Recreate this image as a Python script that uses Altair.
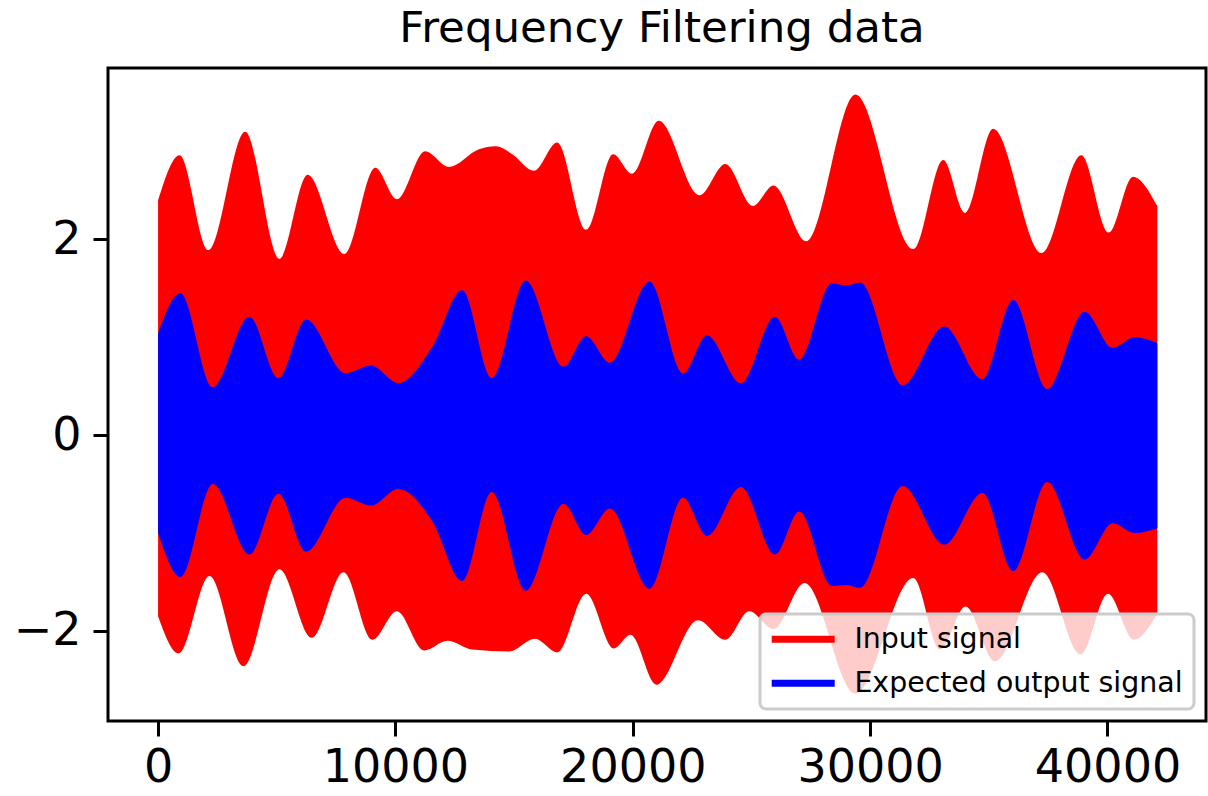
import altair as alt
import pandas as pd

# Input signal (red) envelope
red_up_x = [0, 904, 2124, 3668, 5110, 6301, 7844, 9148, 10061, 11251, 12260, 13522, 14225,
            14923, 15836, 16816, 18035, 19171, 19970, 21093, 22805, 23898, 25059, 25930,
            27305, 29379, 31818, 33080, 33993, 35183, 37215, 38897, 40050, 41071, 42100]
red_up_y = [2.40, 2.86, 1.89, 3.10, 1.80, 2.66, 1.85, 2.73, 2.41, 2.90, 2.74, 2.92, 2.95,
            2.87, 2.70, 2.99, 2.10, 2.87, 2.67, 3.21, 2.45, 2.77, 2.34, 2.55,
            1.98, 3.48, 1.90, 2.81, 2.27, 3.13, 1.86, 2.86, 2.07, 2.64, 2.34]

red_lo_x = [0, 862, 2166, 3596, 5110, 6469, 7815, 9035, 10061, 11209, 12189, 13240, 14784,
            15878, 16816, 18035, 19200, 19903, 20996, 22746, 23898, 24907, 25930, 27234,
            29379, 31818, 32954, 34018, 35254, 37257, 38872, 40020, 41113, 42100]
red_lo_y = [-1.85, -2.23, -1.44, -2.36, -1.37, -2.07, -1.40, -2.09, -1.80, -2.20, -2.10, -2.19, -2.21,
            -2.08, -2.22, -1.62, -2.18, -2.04, -2.55, -1.89, -2.09, -1.80, -1.98, -1.51,
            -2.64, -1.46, -2.19, -1.75, -2.31, -1.40, -2.24, -1.62, -2.09, -1.82]

# Expected output signal (blue) envelope
blue_x = [0, 940, 2305, 3848, 5068, 6233, 7900, 8967, 10120, 11550, 12810, 14056, 15487,
          17080, 18035, 19032, 20702, 22115, 23125, 24555, 25990, 27011, 28382, 29013,
          29577, 31368, 33122, 34733, 36024, 37460, 39040, 40215, 41143, 42100]
blue_up = [1.04, 1.45, 0.49, 1.21, 0.58, 1.18, 0.63, 0.71, 0.53, 0.90, 1.48, 0.58, 1.58,
           0.70, 1.01, 0.74, 1.57, 0.63, 1.02, 0.53, 1.21, 0.77, 1.55, 1.53,
           1.56, 0.51, 1.11, 0.57, 1.38, 0.47, 1.26, 0.89, 1.00, 0.94]
blue_lo = [-1.00, -1.45, -0.50, -1.22, -0.60, -1.19, -0.64, -0.72, -0.55, -0.88, -1.49, -0.58, -1.59,
           -0.70, -1.02, -0.75, -1.57, -0.64, -1.03, -0.53, -1.22, -0.78, -1.54, -1.53,
           -1.56, -0.52, -1.12, -0.59, -1.39, -0.48, -1.27, -0.90, -1.00, -0.95]

series_names = ["Input signal", "Expected output signal"]
series_colors = ["#ff0000", "#0000ff"]
x_ticks = [0, 10000, 20000, 30000, 40000]
y_ticks = [-2, 0, 2]

red_df = pd.concat([
    pd.DataFrame({"x": red_up_x, "y": red_up_y, "part": "upper", "series": series_names[0]}),
    pd.DataFrame({"x": red_lo_x, "y": red_lo_y, "part": "lower", "series": series_names[0]}),
])
blue_df = pd.DataFrame({"x": blue_x, "upper": blue_up, "lower": blue_lo, "series": series_names[1]})

xscale = alt.Scale(domain=[-2110, 44150], nice=False, zero=False)
yscale = alt.Scale(domain=[-2.92, 3.75], nice=False, zero=False)

color = alt.Color(
    "series:N",
    scale=alt.Scale(domain=series_names, range=series_colors),
    legend=alt.Legend(
        title=None,
        orient="none",
        legendX=652,
        legendY=546,
        symbolType="M-3,-0.33H3V0.33H-3Z",
        symbolSize=441,
        symbolOffset=18,
        symbolStrokeWidth=0,
        symbolOpacity=1,
        labelFontSize=28.4,
        labelFont="DejaVu Sans",
        labelColor="black",
        labelOffset=37,
        labelLimit=0,
        rowPadding=15,
        padding=11,
        fillColor="rgba(255,255,255,0.8)",
        strokeColor="#cccccc",
        cornerRadius=6,
    ),
)

xenc = alt.X("x:Q", scale=xscale,
             axis=alt.Axis(values=x_ticks, format="d", title=None, labelPadding=9))
red = alt.Chart(red_df).mark_area(interpolate="monotone", opacity=1).encode(
    x=xenc,
    y=alt.Y("y:Q", scale=yscale,
            axis=alt.Axis(values=y_ticks, format="d", title=None, labelPadding=12)),
    y2=alt.datum(0),
    color=color,
    detail="part:N",
)
blue = alt.Chart(blue_df).mark_area(interpolate="monotone", opacity=1).encode(
    x=xenc,
    y=alt.Y("upper:Q", scale=yscale),
    y2="lower:Q",
    color=color,
)

chart = alt.layer(red, blue).properties(
    width=1098,
    height=653,
    autosize=alt.AutoSizeParams(type="none"),
    padding={"left": 108, "top": 68, "right": 2, "bottom": 75},
    title=alt.Title("Frequency Filtering data", fontSize=43.5, font="DejaVu Sans",
                    fontWeight="normal", color="black", anchor="middle", offset=17, dx=5),
).configure_view(
    stroke="black", strokeWidth=3
).configure_axis(
    grid=False, domain=False, labelFont="DejaVu Sans", labelFontSize=46,
    labelColor="black", tickColor="black", tickWidth=3, tickSize=15,
).configure_legend(
    strokeWidth=3
)

chart.save("out.html", embed_options={"renderer": "svg", "actions": False})
